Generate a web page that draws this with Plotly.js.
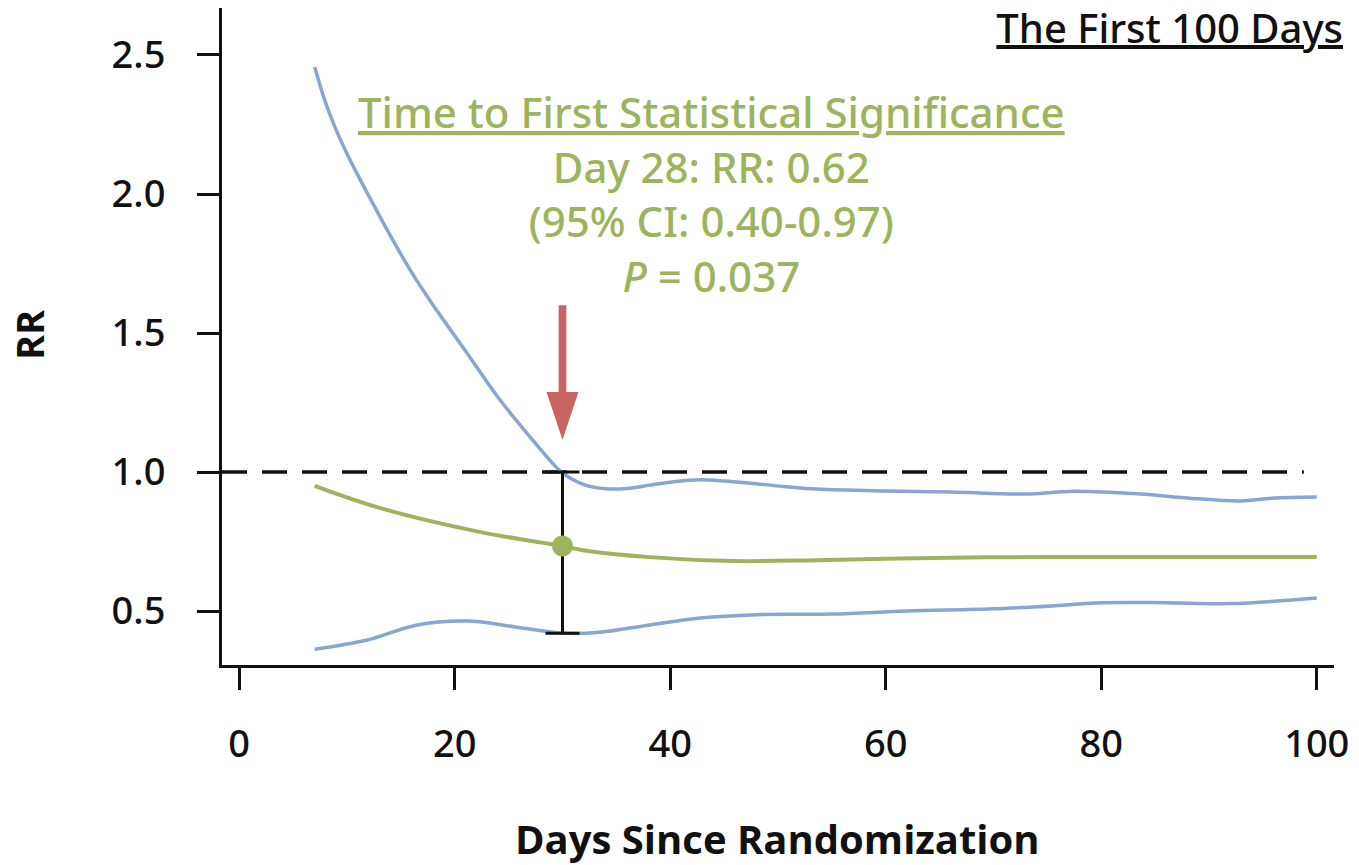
<!DOCTYPE html>
<html><head><meta charset="utf-8">
<script src="https://cdn.plot.ly/plotly-3.0.1.min.js"></script>
<style>html,body{margin:0;padding:0;background:#fff}</style>
</head><body><div id="chart" style="width:1359px;height:865px"></div>
<script>
// ---- data ----
const upperDays = [7, 8, 9, 10, 11, 12, 14, 16, 18, 20, 22, 24, 26, 28, 30, 32, 34, 36, 38.1, 40.5, 42.8, 45, 47.4, 50.5, 53.6, 59.7, 66, 73.4, 77.4, 83.6, 88.2, 92.9, 95.9, 100];
const upperRR   = [2.457, 2.33, 2.23, 2.145, 2.068, 1.995, 1.852, 1.718, 1.60, 1.49, 1.38, 1.27, 1.172, 1.08, 0.997, 0.955, 0.94, 0.941, 0.953, 0.966, 0.972, 0.968, 0.96, 0.948, 0.939, 0.932, 0.928, 0.921, 0.931, 0.921, 0.906, 0.896, 0.906, 0.91];
const lowerDays = [7, 11.9, 16.5, 21.2, 25.8, 29.8, 33.5, 38.1, 42.8, 48, 55, 62, 70, 76, 80, 86, 92, 100];
const lowerRR   = [0.363, 0.396, 0.45, 0.464, 0.442, 0.421, 0.424, 0.45, 0.475, 0.487, 0.489, 0.5, 0.508, 0.52, 0.53, 0.53, 0.527, 0.547];
const estDays   = [7, 13.1, 22.4, 29.9, 31.9, 38.1, 45.8, 53.6, 66, 74.3, 100];
const estRR     = [0.95, 0.87, 0.784, 0.734, 0.719, 0.694, 0.68, 0.683, 0.692, 0.694, 0.694];
const sigDay = 30, sigRR = 0.734, sigLower = 0.42, sigUpper = 1.0;
const refLevel = 1.0, refEnd = 98.8;
const xTicks = [0, 20, 40, 60, 80, 100];
const yTicks = [0.5, 1.0, 1.5, 2.0, 2.5];
const yTickText = ['0.5', '1.0', '1.5', '2.0', '2.5'];
const titleText = 'The First 100 Days';
const noteLines = ['<u>Time to First Statistical Significance</u>', 'Day 28: RR: 0.62', '(95% CI: 0.40-0.97)', '<i>P</i> = 0.037'];

// ---- styling ----
const FONT = 'Open Sans, Noto Sans, sans-serif';
const MED = 'Noto Sans, Open Sans, sans-serif';
const BLUE = '#87a6d3', GREEN = '#9db45c', RED = '#c86563';
const W = 1359, H = 865;
const M = {l: 222, r: 25, t: 8, b: 200};
const xRange = [-1.6, 101.6], yRange = [0.306, 2.669];
const px2paperX = p => (p - M.l) / (W - M.l - M.r);
const px2paperY = p => (H - M.b - p) / (H - M.t - M.b);

const traces = [
  {x: upperDays, y: upperRR, mode: 'lines', line: {color: BLUE, width: 3.5, shape: 'spline', smoothing: 1}, hoverinfo: 'skip'},
  {x: lowerDays, y: lowerRR, mode: 'lines', line: {color: BLUE, width: 3.5, shape: 'spline', smoothing: 1}, hoverinfo: 'skip'},
  {x: estDays, y: estRR, mode: 'lines', line: {color: GREEN, width: 4, shape: 'spline', smoothing: 1}, hoverinfo: 'skip'},
  {x: [sigDay], y: [sigRR], mode: 'markers', marker: {color: GREEN, size: 21},
   error_y: {type: 'data', symmetric: false, array: [sigUpper - sigRR], arrayminus: [sigRR - sigLower], color: '#111', thickness: 3, width: 17}},
];

// arrow (shaft + head) built around the significance day
const aTop = 1.60, aBase = 1.288, aTip = 1.115, shaftHalf = 0.36, headHalf = 1.48;
const arrowPath = `M${sigDay - shaftHalf},${aTop} L${sigDay + shaftHalf},${aTop} L${sigDay + shaftHalf},${aBase} L${sigDay + headHalf},${aBase} L${sigDay},${aTip} L${sigDay - headHalf},${aBase} L${sigDay - shaftHalf},${aBase} Z`;

const annotations = [{
  text: noteLines.join('<br>'), xref: 'paper', yref: 'paper', x: px2paperX(711), y: px2paperY(193),
  xanchor: 'center', yanchor: 'middle', align: 'center', showarrow: false,
  font: {family: MED, size: 42, weight: 500, color: GREEN}
}, {
  text: '<b>RR</b>', xref: 'paper', yref: 'paper', x: px2paperX(29), y: px2paperY(335),
  xanchor: 'center', yanchor: 'middle', textangle: -90, showarrow: false,
  font: {family: FONT, size: 38, color: '#111'}
}, {
  text: '<b>Days Since Randomization</b>', xref: 'paper', yref: 'paper', x: px2paperX(777), y: px2paperY(838),
  xanchor: 'center', yanchor: 'middle', showarrow: false,
  font: {family: FONT, size: 40, color: '#111'}
}];

const axisCommon = {
  showline: true, linewidth: 3, linecolor: '#111', ticks: 'outside', ticklen: 22, tickwidth: 3, tickcolor: '#111',
  showgrid: false, zeroline: false, fixedrange: true,
  tickfont: {family: MED, size: 38, weight: 500, color: '#111'}
};

const layout = {
  width: W, height: H, margin: M, showlegend: false,
  paper_bgcolor: '#fff', plot_bgcolor: '#fff',
  title: {text: '<u>' + titleText + '</u>', xref: 'container', yref: 'container', x: 1343 / W, xanchor: 'right', y: 1 - 29 / H, yanchor: 'middle',
          font: {family: MED, size: 40, weight: 500, color: '#111'}},
  xaxis: Object.assign({}, axisCommon, {range: xRange, tickvals: xTicks, ticklabelstandoff: 21}),
  yaxis: Object.assign({}, axisCommon, {range: yRange, tickvals: yTicks, ticktext: yTickText, ticklabelstandoff: 24}),
  shapes: [
    {type: 'line', xref: 'x', yref: 'y', x0: xRange[0], x1: refEnd, y0: refLevel, y1: refLevel, line: {color: '#111', width: 3.5, dash: '25px,15px'}, layer: 'below'},
    {type: 'path', xref: 'x', yref: 'y', path: arrowPath, fillcolor: RED, line: {width: 0}}
  ],
  annotations: annotations
};

Plotly.newPlot('chart', traces, layout, {displayModeBar: false, staticPlot: true});
</script></body></html>
